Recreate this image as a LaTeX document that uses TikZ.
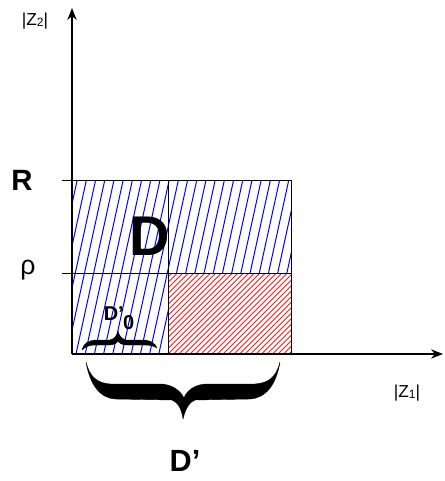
\documentclass[tikz,border=0pt]{standalone}
\usepackage{fontspec}
\setmainfont{Liberation Sans}
\usetikzlibrary{arrows.meta}

\begin{document}
\begin{tikzpicture}[
    x=0.75pt, y=-0.75pt,
    % Estilo de los ejes
    axis/.style={line width=0.8pt, -{Stealth[length=9pt, width=7pt]}},
    frame/.style={line width=0.75pt},
    % Estilos de los rayados
    bluehatch/.style={blue, line width=0.75pt},
    redhatch/.style={red!90!white, line width=0.7pt},
    % Llaves rellenas
    fatbrace/.style={fill=black, draw=black, line width=0.3pt, line join=round},
    bigletter/.style={inner sep=0pt, font=\bfseries\fontsize{#1}{#1}\selectfont},
    axislabel/.style={inner sep=0pt, font=\fontsize{13}{13}\selectfont}
]
    \useasboundingbox (0,0) rectangle (445,481);

    % Parámetros generales
    \def\xo{72}    % eje vertical
    \def\yo{354}   % eje horizontal
    \def\xm{168}   % división vertical
    \def\xr{291}   % borde derecho
    \def\yR{180}   % altura R
    \def\yrho{273} % altura rho

    % 1. Rayado azul de D
    \begin{scope}
        \clip (\xo,\yR) -- (\xr,\yR) -- (\xr,\yrho) -- (\xm,\yrho) -- (\xm,\yo) -- (\xo,\yo) -- cycle;
        \foreach \x in {30,39.2,...,300}
            \draw[bluehatch] (\x,\yo) -- ++(38,-174);
    \end{scope}

    % 2. Rayado rojo del cuadrante inferior derecho
    \begin{scope}
        \clip (\xm,\yrho) rectangle (\xr,\yo);
        \foreach \x in {80,85.5,...,300}
            \draw[redhatch] (\x,\yo) -- ++(90,-90);
    \end{scope}

    % 3. Contornos y marcas
    \draw[frame] (\xo,\yR) rectangle (\xr,\yo);
    \draw[frame] (\xm,\yR) -- (\xm,\yo);
    \draw[frame] (62,\yrho) -- (\xr,\yrho);
    \draw[frame] (62,\yR) -- (\xo,\yR);

    % 4. Ejes
    \coordinate (O) at (\xo,\yo);
    \coordinate (xtip) at (443,\yo);
    \coordinate (ytip) at (\xo,8);
    \draw[axis] (O) -- (xtip);
    \draw[axis] (O) -- (ytip);

    % Etiquetas de los ejes
    \node[axislabel] (z2) at (35,21) {|Z\raisebox{-0.15ex}{\fontsize{9}{9}\selectfont 2}|};
    \node[axislabel] (z1) at (407,393) {|Z\raisebox{-0.15ex}{\fontsize{9}{9}\selectfont 1}|};
    \node[bigletter=22] (R) at (22,180) {R};
    \node[inner sep=0pt, font=\fontsize{20}{20}\selectfont] (rho) at (28,270) {ρ};

    % 5. Regiones
    \node[bigletter=15] (D0) at (119,318) {D'\kern-0.5pt\raisebox{-0.9ex}{0}};
    \node[bigletter=42] (D) at (150,236) {D};
    \node[bigletter=23] (Dp) at (185,461) {D'};

    % Llave pequeña bajo D'_0
    \fill[fatbrace] (82,350) .. controls (84,343) and (88,341) .. (95,340) -- (110,340)
        .. controls (114,339) and (117,336) .. (118,331)
        .. controls (119,336) and (122,339) .. (126,340) -- (145,340)
        .. controls (151,341) and (155,343) .. (157,348)
        .. controls (154,346) and (150,345) .. (145,345) -- (127,345)
        .. controls (122,345) and (119,343) .. (118,341)
        .. controls (117,343) and (114,345) .. (109,345) -- (95,345)
        .. controls (89,345) and (85,347) .. (82,350) -- cycle;

    % Llave grande sobre D'
    \filldraw[fatbrace] (86,362) .. controls (90,385) and (100,398) .. (115,399) -- (172,400)
        .. controls (178,402) and (182,410) .. (183,419)
        .. controls (185,410) and (189,402) .. (195,400) -- (250,399)
        .. controls (266,398) and (276,385) .. (280,362)
        .. controls (276,378) and (268,383) .. (255,384) -- (205,384)
        .. controls (195,385) and (187,390) .. (184,398)
        .. controls (180,390) and (172,385) .. (162,384) -- (110,384)
        .. controls (98,383) and (90,378) .. (86,362) -- cycle;

\end{tikzpicture}
\end{document}
